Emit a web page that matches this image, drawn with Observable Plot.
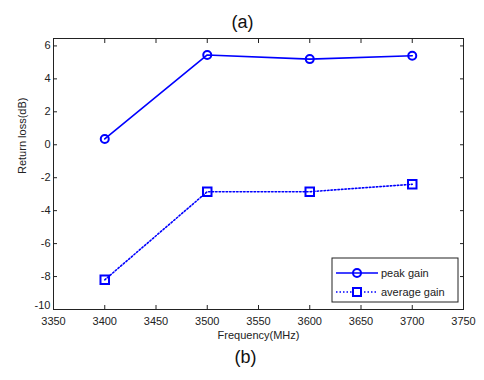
<!DOCTYPE html>
<html>
<head>
<meta charset="utf-8">
<script src="https://cdn.jsdelivr.net/npm/d3@7"></script>
<script src="https://cdn.jsdelivr.net/npm/@observablehq/plot@0.6"></script>
<style>
  html, body { margin: 0; padding: 0; background: #fff; }
  #chart { width: 484px; height: 380px; }
</style>
</head>
<body>
<div id="chart"></div>
<script>
const frequency = [3400, 3500, 3600, 3700];
const peakGain = [0.35, 5.45, 5.2, 5.4];
const averageGain = [-8.2, -2.85, -2.85, -2.4];
const seriesNames = ["peak gain", "average gain"];
const xTicks = [3350, 3400, 3450, 3500, 3550, 3600, 3650, 3700, 3750];
const yTicks = [-10, -8, -6, -4, -2, 0, 2, 4, 6];

const peak = frequency.map((f, i) => ({f, v: peakGain[i]}));
const avg = frequency.map((f, i) => ({f, v: averageGain[i]}));

const font = "'Liberation Sans', Arial, sans-serif";
const blue = "#0000ff";
const axisColor = "#222";

const plot = Plot.plot({
  width: 484,
  height: 380,
  marginLeft: 53,
  marginRight: 21,
  marginTop: 38,
  marginBottom: 71,
  style: {fontFamily: font, fontSize: "11px", color: axisColor, background: "#fff"},
  x: {domain: [3350, 3750], label: null},
  y: {domain: [-10, 6.45], label: null},
  marks: [
    Plot.frame({stroke: axisColor, strokeWidth: 1}),
    Plot.axisX({ticks: xTicks, tickSize: -4, tickPadding: 12, tickFormat: d => String(d), anchor: "bottom", label: null}),
    Plot.axisX({ticks: xTicks, tickSize: -4, tickFormat: () => "", anchor: "top", label: null}),
    Plot.axisY({ticks: yTicks.filter(t => t !== -10), tickSize: -4, tickPadding: 7, tickFormat: d => String(d), anchor: "left", label: null}),
    Plot.axisY({ticks: [-10], tickSize: 0, tickPadding: 3, tickFormat: d => String(d), anchor: "left", label: null, dy: -4}),
    Plot.axisY({ticks: yTicks, tickSize: -4, tickFormat: () => "", anchor: "right", label: null}),
    Plot.line(avg, {x: "f", y: "v", stroke: blue, strokeWidth: 1.6, strokeDasharray: "1.5,2"}),
    Plot.dot(avg, {x: "f", y: "v", symbol: "square", r: 4.8, stroke: blue, strokeWidth: 2, fill: "none"}),
    Plot.line(peak, {x: "f", y: "v", stroke: blue, strokeWidth: 1.6}),
    Plot.dot(peak, {x: "f", y: "v", symbol: "circle", r: 4, stroke: blue, strokeWidth: 2, fill: "none"}),
    Plot.text(["Frequency(MHz)"], {frameAnchor: "bottom", dy: 29, fontSize: 11, fill: axisColor}),
    Plot.text(["Return loss(dB)"], {frameAnchor: "left", rotate: -90, dx: -31, fontSize: 11, fill: axisColor}),
    Plot.text(["(a)"], {frameAnchor: "top", dy: -23, dx: -16, fontSize: 18, fill: "#111"}),
    Plot.text(["(b)"], {frameAnchor: "bottom", dy: 53, dx: -13, fontSize: 18, fill: "#111"})
  ]
});

// Legend box (MATLAB style), drawn inside the SVG
const svg = d3.select(plot);
const lg = svg.append("g").attr("transform", "translate(332,258)");
lg.append("rect").attr("width", 126).attr("height", 44)
  .attr("fill", "#fff").attr("stroke", axisColor).attr("stroke-width", 1);
seriesNames.forEach((name, i) => {
  const y = 15 + i * 19;
  const row = lg.append("g").attr("transform", `translate(0,${y})`);
  row.append("line").attr("x1", 4).attr("x2", 46).attr("y1", 0).attr("y2", 0)
    .attr("stroke", blue).attr("stroke-width", 1.6)
    .attr("stroke-dasharray", i === 0 ? null : "1.5,2");
  if (i === 0) {
    row.append("circle").attr("cx", 25).attr("cy", 0).attr("r", 4)
      .attr("fill", "none").attr("stroke", blue).attr("stroke-width", 2);
  } else {
    row.append("rect").attr("x", 21).attr("y", -4).attr("width", 8).attr("height", 8)
      .attr("fill", "#fff").attr("stroke", blue).attr("stroke-width", 2);
  }
  row.append("text").attr("x", 49).attr("y", 0).attr("dy", "0.35em")
    .attr("text-anchor", "start")
    .attr("font-family", font).attr("font-size", 11).attr("fill", axisColor)
    .text(name);
});

document.getElementById("chart").appendChild(plot);
</script>
</body>
</html>
